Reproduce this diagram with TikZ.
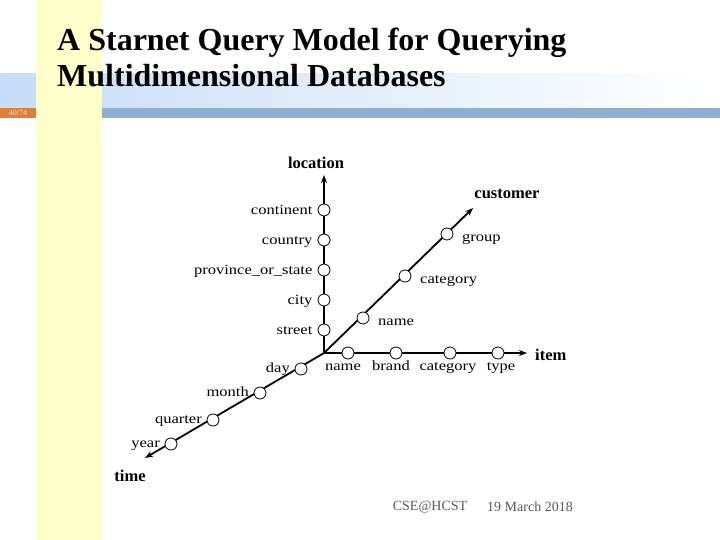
\documentclass[tikz,border=0pt]{standalone}
\usepackage{fontspec}
\setmainfont{Liberation Serif}
\newfontfamily\labfont[FakeStretch=1.18]{Liberation Serif}
\usetikzlibrary{positioning, arrows.meta}
\definecolor{bandyellow}{HTML}{FFFFCC}
\definecolor{barblue}{HTML}{8FAFD1}
\definecolor{fadeblue}{HTML}{C6DDF7}
\definecolor{barorange}{HTML}{E27D3C}
\definecolor{footgray}{HTML}{5A5A5A}

\begin{document}
\begin{tikzpicture}[x=1pt, y=-1pt,
    dot/.style={circle, draw, line width=0.8pt, fill=white,
        minimum size=12pt, inner sep=0pt},
    axis/.style={line width=1.8pt, -{Stealth[length=8pt, width=6pt]}},
    lab/.style={font=\labfont\fontsize{14}{16}\selectfont, inner sep=1pt,
        text height=1.6ex, text depth=0.4ex},
    dimlab/.style={font=\fontsize{16.5}{18}\selectfont\bfseries, inner sep=1pt},
    ttl/.style={anchor=base west, font=\fontsize{32}{36}\selectfont\bfseries, inner sep=0pt},
    foot/.style={font=\fontsize{14}{16}\selectfont, text=footgray},
  ]
  \useasboundingbox (0,0) rectangle (720,540);
  \fill[white] (0,0) rectangle (720,540);

  % Slide background
  \shade[left color=fadeblue, right color=white] (0,74) rectangle (720,108);
  \fill[barblue] (0,108) rectangle (720,118);
  \fill[barorange] (0,108) rectangle (36,118);
  \node[font=\fontsize{8}{9}\selectfont, text=white!75!barorange] (pg) at (18,113) {40/74};
  \fill[bandyellow] (36,0) rectangle (102,540);

  % Title
  \node[ttl] (title1) at (57,51) {A Starnet Query Model for Querying};
  \node[ttl] (title2) at (57,87) {Multidimensional Databases};

  % Origin and axis ends
  \coordinate (O) at (324,353);
  \coordinate (Lend) at (324,175);
  \coordinate (Cend) at (473,208);
  \coordinate (Iend) at (527,353);
  \coordinate (Tend) at (145,458);

  \draw[axis] (O) -- (Lend);
  \draw[axis] (O) -- (Cend);
  \draw[axis] (O) -- (Iend);
  \draw[axis] (O) -- (Tend);

  % Dimension names
  \node[dimlab] (location) at (316,163) {location};
  \node[dimlab] (customer) at (507,194) {customer};
  \node[dimlab, anchor=west] (item) at (534,355) {item};
  \node[dimlab] (time) at (130,476) {time};

  % location levels
  \foreach \i/\y/\lab in {1/210/continent, 2/240/country,
      3/270/province\_or\_state, 4/300/city, 5/330/street}{
      \node[dot] (L\i) at (324,\y) {};
      \node[lab, left=4pt of L\i, yshift=-2pt] {\lab};
    }

  % customer levels
  \foreach \i/\x/\y/\lab in {1/363/318/name, 2/405/276/category, 3/447/234/group}{
      \node[dot] (C\i) at (\x,\y) {};
      \node[lab, anchor=west] at ([xshift=14pt, yshift=-5pt]C\i.center) {\lab};
    }

  % item levels
  \foreach \i/\x/\lx/\lab in {1/348/343/name, 2/396/391/brand,
      3/450/448/category, 4/498/501/type}{
      \node[dot] (I\i) at (\x,353) {};
      \node[lab] at (\lx,368) {\lab};
    }

  % time levels
  \foreach \i/\x/\y/\lab in {1/301/369/day, 2/260/393/month,
      3/213/420/quarter, 4/171/444/year}{
      \node[dot] (T\i) at (\x,\y) {};
      \node[lab, anchor=east] at ([xshift=-10pt, yshift=-1pt]T\i.center) {\lab};
    }

  % Footer
  \node[foot] (org) at (430,507) {CSE@HCST};
  \node[foot] (date) at (530,507) {19 March 2018};
\end{tikzpicture}
\end{document}
